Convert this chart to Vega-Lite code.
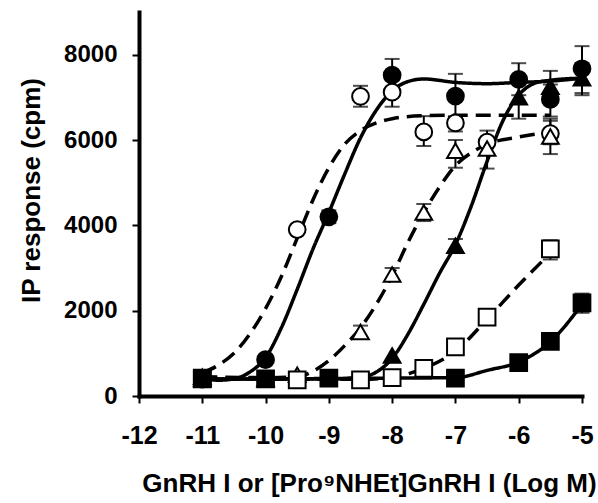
{
  "$schema": "https://vega.github.io/schema/vega-lite/v6.json",
  "width": 443,
  "height": 384,
  "autosize": "none",
  "padding": {"left": 139, "top": 12, "right": 16, "bottom": 107},
  "background": "white",
  "config": {
    "view": {"stroke": null},
    "font": "Liberation Sans",
    "axis": {
      "grid": false,
      "domainColor": "black",
      "domainWidth": 4,
      "domainCap": "square",
      "tickColor": "black",
      "tickWidth": 2,
      "tickSize": 7,
      "labelFont": "Liberation Sans",
      "labelFontWeight": "bold",
      "labelFontSize": 24,
      "labelColor": "black",
      "labelOverlap": false,
      "labelFlush": false,
      "titleFont": "Liberation Sans",
      "titleFontWeight": "bold",
      "titleColor": "black"
    }
  },
  "datasets": {
    "points": [
      {"series": "filled circle", "x": -11, "y": 400},
      {"series": "filled circle", "x": -10, "y": 850},
      {"series": "filled circle", "x": -9, "y": 4200, "lo": 4050, "hi": 4350},
      {"series": "filled circle", "x": -8, "y": 7520, "lo": 7150, "hi": 7900},
      {"series": "filled circle", "x": -7, "y": 7030, "lo": 6550, "hi": 7550},
      {"series": "filled circle", "x": -6, "y": 7420, "lo": 7050, "hi": 7800},
      {"series": "filled circle", "x": -5.5, "y": 6950, "lo": 6550, "hi": 7300},
      {"series": "filled circle", "x": -5, "y": 7670, "lo": 7100, "hi": 8200},
      {"series": "open circle", "x": -11, "y": 400},
      {"series": "open circle", "x": -9.5, "y": 3900},
      {"series": "open circle", "x": -8.5, "y": 7020, "lo": 6780, "hi": 7270},
      {"series": "open circle", "x": -8, "y": 7120, "lo": 6780, "hi": 7400},
      {"series": "open circle", "x": -7.5, "y": 6190, "lo": 5860, "hi": 6560},
      {"series": "open circle", "x": -7, "y": 6400, "lo": 6200, "hi": 6550},
      {"series": "open circle", "x": -6.5, "y": 5950},
      {"series": "open circle", "x": -5.5, "y": 6150, "lo": 5900, "hi": 6450},
      {"series": "open triangle", "x": -11, "y": 450},
      {"series": "open triangle", "x": -9.5, "y": 500},
      {"series": "open triangle", "x": -8.5, "y": 1500, "lo": 1350, "hi": 1650},
      {"series": "open triangle", "x": -8, "y": 2850, "lo": 2700, "hi": 3000},
      {"series": "open triangle", "x": -7.5, "y": 4300, "lo": 4100, "hi": 4500},
      {"series": "open triangle", "x": -7, "y": 5750, "lo": 5350, "hi": 6000},
      {"series": "open triangle", "x": -6.5, "y": 5800, "lo": 5330, "hi": 6220},
      {"series": "open triangle", "x": -5.5, "y": 6080, "lo": 5670, "hi": 6500},
      {"series": "filled triangle", "x": -11, "y": 400},
      {"series": "filled triangle", "x": -10, "y": 400},
      {"series": "filled triangle", "x": -8, "y": 950},
      {"series": "filled triangle", "x": -7, "y": 3520, "lo": 3350, "hi": 3680},
      {"series": "filled triangle", "x": -6, "y": 7000, "lo": 6500, "hi": 7400},
      {"series": "filled triangle", "x": -5.5, "y": 7250, "lo": 6900, "hi": 7620},
      {"series": "filled triangle", "x": -5, "y": 7450, "lo": 7050, "hi": 7800},
      {"series": "open square", "x": -11, "y": 420},
      {"series": "open square", "x": -9.5, "y": 380},
      {"series": "open square", "x": -8.5, "y": 380},
      {"series": "open square", "x": -8, "y": 430},
      {"series": "open square", "x": -7.5, "y": 650},
      {"series": "open square", "x": -7, "y": 1150},
      {"series": "open square", "x": -6.5, "y": 1850},
      {"series": "open square", "x": -5.5, "y": 3450, "lo": 3200, "hi": 3650},
      {"series": "filled square", "x": -11, "y": 400},
      {"series": "filled square", "x": -10, "y": 400},
      {"series": "filled square", "x": -9, "y": 420},
      {"series": "filled square", "x": -7, "y": 420},
      {"series": "filled square", "x": -6, "y": 780},
      {"series": "filled square", "x": -5.5, "y": 1280},
      {"series": "filled square", "x": -5, "y": 2180, "lo": 1950, "hi": 2400}
    ],
    "curves": [
      {"series": "filled circle", "x": -11, "y": 420},
      {"series": "filled circle", "x": -10.75, "y": 370},
      {"series": "filled circle", "x": -10.5, "y": 400},
      {"series": "filled circle", "x": -10.25, "y": 560},
      {"series": "filled circle", "x": -10, "y": 900},
      {"series": "filled circle", "x": -9.75, "y": 1600},
      {"series": "filled circle", "x": -9.5, "y": 2500},
      {"series": "filled circle", "x": -9.25, "y": 3450},
      {"series": "filled circle", "x": -9, "y": 4300},
      {"series": "filled circle", "x": -8.75, "y": 5200},
      {"series": "filled circle", "x": -8.5, "y": 6050},
      {"series": "filled circle", "x": -8.25, "y": 6700},
      {"series": "filled circle", "x": -8, "y": 7150},
      {"series": "filled circle", "x": -7.75, "y": 7370},
      {"series": "filled circle", "x": -7.5, "y": 7430},
      {"series": "filled circle", "x": -7, "y": 7350},
      {"series": "filled circle", "x": -6.5, "y": 7320},
      {"series": "filled circle", "x": -6, "y": 7350},
      {"series": "filled circle", "x": -5.5, "y": 7380},
      {"series": "filled circle", "x": -5, "y": 7450},
      {"series": "open circle", "x": -11, "y": 540},
      {"series": "open circle", "x": -10.75, "y": 720},
      {"series": "open circle", "x": -10.5, "y": 1000},
      {"series": "open circle", "x": -10.25, "y": 1450},
      {"series": "open circle", "x": -10, "y": 2050},
      {"series": "open circle", "x": -9.75, "y": 2800},
      {"series": "open circle", "x": -9.5, "y": 3700},
      {"series": "open circle", "x": -9.25, "y": 4600},
      {"series": "open circle", "x": -9, "y": 5350},
      {"series": "open circle", "x": -8.75, "y": 5900},
      {"series": "open circle", "x": -8.5, "y": 6220},
      {"series": "open circle", "x": -8.25, "y": 6400},
      {"series": "open circle", "x": -8, "y": 6500},
      {"series": "open circle", "x": -7.5, "y": 6570},
      {"series": "open circle", "x": -7, "y": 6580},
      {"series": "open circle", "x": -6.5, "y": 6580},
      {"series": "open circle", "x": -6, "y": 6580},
      {"series": "open circle", "x": -5.5, "y": 6580},
      {"series": "open triangle", "x": -11, "y": 450},
      {"series": "open triangle", "x": -10, "y": 430},
      {"series": "open triangle", "x": -9.5, "y": 450},
      {"series": "open triangle", "x": -9.25, "y": 580},
      {"series": "open triangle", "x": -9, "y": 830},
      {"series": "open triangle", "x": -8.75, "y": 1180},
      {"series": "open triangle", "x": -8.5, "y": 1600},
      {"series": "open triangle", "x": -8.25, "y": 2150},
      {"series": "open triangle", "x": -8, "y": 2820},
      {"series": "open triangle", "x": -7.75, "y": 3600},
      {"series": "open triangle", "x": -7.5, "y": 4300},
      {"series": "open triangle", "x": -7.25, "y": 4900},
      {"series": "open triangle", "x": -7, "y": 5400},
      {"series": "open triangle", "x": -6.75, "y": 5700},
      {"series": "open triangle", "x": -6.5, "y": 5900},
      {"series": "open triangle", "x": -6, "y": 6070},
      {"series": "open triangle", "x": -5.5, "y": 6190},
      {"series": "filled triangle", "x": -11, "y": 400},
      {"series": "filled triangle", "x": -10, "y": 400},
      {"series": "filled triangle", "x": -9, "y": 400},
      {"series": "filled triangle", "x": -8.5, "y": 440},
      {"series": "filled triangle", "x": -8.25, "y": 560},
      {"series": "filled triangle", "x": -8, "y": 880},
      {"series": "filled triangle", "x": -7.75, "y": 1450},
      {"series": "filled triangle", "x": -7.5, "y": 2150},
      {"series": "filled triangle", "x": -7.25, "y": 2880},
      {"series": "filled triangle", "x": -7, "y": 3550},
      {"series": "filled triangle", "x": -6.75, "y": 4450},
      {"series": "filled triangle", "x": -6.5, "y": 5500},
      {"series": "filled triangle", "x": -6.25, "y": 6450},
      {"series": "filled triangle", "x": -6, "y": 7050},
      {"series": "filled triangle", "x": -5.75, "y": 7330},
      {"series": "filled triangle", "x": -5.5, "y": 7400},
      {"series": "filled triangle", "x": -5, "y": 7450},
      {"series": "open square", "x": -11, "y": 420},
      {"series": "open square", "x": -10, "y": 400},
      {"series": "open square", "x": -9, "y": 390},
      {"series": "open square", "x": -8.5, "y": 390},
      {"series": "open square", "x": -8, "y": 440},
      {"series": "open square", "x": -7.5, "y": 650},
      {"series": "open square", "x": -7, "y": 1050},
      {"series": "open square", "x": -6.5, "y": 1800},
      {"series": "open square", "x": -6, "y": 2600},
      {"series": "open square", "x": -5.5, "y": 3350},
      {"series": "filled square", "x": -11, "y": 400},
      {"series": "filled square", "x": -10, "y": 400},
      {"series": "filled square", "x": -9, "y": 410},
      {"series": "filled square", "x": -8, "y": 420},
      {"series": "filled square", "x": -7, "y": 430},
      {"series": "filled square", "x": -6.5, "y": 600},
      {"series": "filled square", "x": -6, "y": 800},
      {"series": "filled square", "x": -5.5, "y": 1270},
      {"series": "filled square", "x": -5, "y": 2150}
    ]
  },
  "layer": [
    {
      "data": {"name": "curves"},
      "mark": {"type": "line", "color": "black", "strokeWidth": 3.5, "interpolate": "monotone"},
      "encoding": {
        "x": {
          "field": "x", "type": "quantitative",
          "scale": {"domain": [-12, -5], "nice": false, "zero": false},
          "axis": {
            "values": [-12, -11, -10, -9, -8, -7, -6, -5],
            "labelExpr": "'' + datum.value",
            "labelFontSize": 25,
            "labelPadding": 20,
            "title": "GnRH I or [Pro⁹NHEt]GnRH I (Log M)",
            "titleFontSize": 26,
            "titleX": 230,
            "titleY": 87,
            "titleBaseline": "middle",
            "titleAnchor": "middle"
          }
        },
        "y": {
          "field": "y", "type": "quantitative",
          "scale": {"domain": [0, 9000], "nice": false},
          "axis": {
            "values": [0, 2000, 4000, 6000, 8000],
            "format": "d",
            "labelPadding": 15,
            "title": "IP response (cpm)",
            "titleFontSize": 26,
            "titleX": -108,
            "titleY": 178,
            "titleBaseline": "middle",
            "titleAnchor": "middle"
          }
        },
        "detail": {"field": "series", "type": "nominal"},
        "strokeDash": {
          "field": "series", "type": "nominal", "legend": null,
          "scale": {
            "domain": ["filled circle", "open circle", "open triangle", "filled triangle", "open square", "filled square"],
            "range": [[1, 0], [15, 8], [15, 8], [1, 0], [15, 8], [1, 0]]
          }
        }
      }
    },
    {
      "data": {"name": "points"},
      "transform": [{"filter": "isValid(datum.lo)"}],
      "mark": {"type": "rule", "color": "black", "strokeWidth": 2},
      "encoding": {
        "x": {"field": "x", "type": "quantitative"},
        "y": {"field": "lo", "type": "quantitative"},
        "y2": {"field": "hi"}
      }
    },
    {
      "data": {"name": "points"},
      "transform": [{"filter": "isValid(datum.lo)"}, {"fold": ["lo", "hi"], "as": ["end", "val"]}],
      "mark": {"type": "tick", "color": "black", "orient": "horizontal", "size": 15, "thickness": 2},
      "encoding": {
        "x": {"field": "x", "type": "quantitative"},
        "y": {"field": "val", "type": "quantitative"}
      }
    },
    {
      "data": {"name": "points"},
      "mark": {"type": "point", "filled": true, "stroke": "black", "strokeWidth": 2, "opacity": 1},
      "encoding": {
        "x": {"field": "x", "type": "quantitative"},
        "y": {"field": "y", "type": "quantitative"},
        "shape": {
          "field": "series", "type": "nominal", "legend": null,
          "scale": {
            "domain": ["filled circle", "open circle", "open triangle", "filled triangle", "open square", "filled square"],
            "range": ["circle", "circle", "triangle-up", "triangle-up", "square", "square"]
          }
        },
        "fill": {
          "field": "series", "type": "nominal", "legend": null,
          "scale": {
            "domain": ["filled circle", "open circle", "open triangle", "filled triangle", "open square", "filled square"],
            "range": ["black", "white", "white", "black", "white", "black"]
          }
        },
        "size": {"value": 280}
      }
    }
  ]
}
